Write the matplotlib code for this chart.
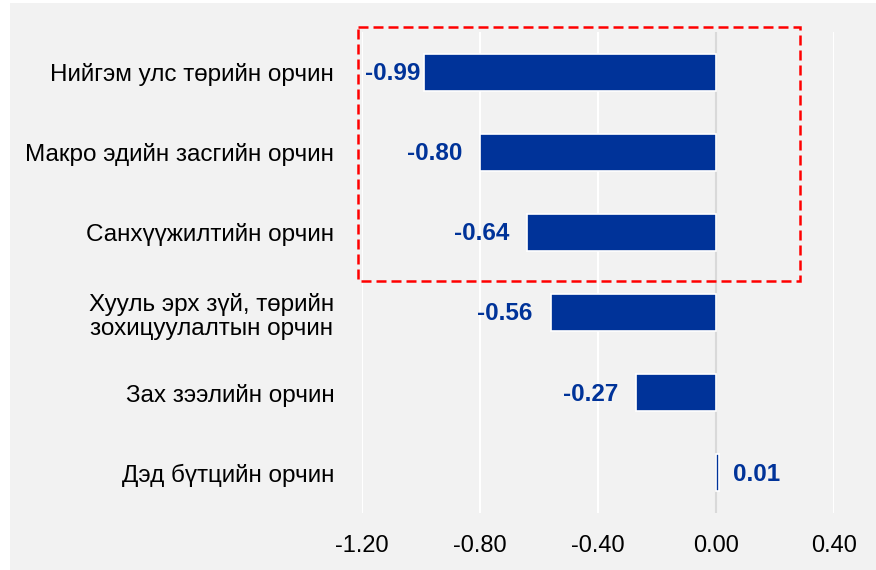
import matplotlib
matplotlib.use("Agg")
import matplotlib.pyplot as plt
from matplotlib.patches import Rectangle

# данные
categories = [
    "Нийгэм улс төрийн орчин",
    "Макро эдийн засгийн орчин",
    "Санхүүжилтийн орчин",
    "Хууль эрх зүй, төрийн\nзохицуулалтын орчин",
    "Зах зээлийн орчин",
    "Дэд бүтцийн орчин",
]
values = [-0.99, -0.80, -0.64, -0.56, -0.27, 0.01]
xticks = [-1.2, -0.8, -0.4, 0.0, 0.4]

plt.rcParams['font.family'] = ['Liberation Sans', 'DejaVu Sans']

blue = '#003399'

fig = plt.figure(figsize=(8.76, 5.7), dpi=100, facecolor='white')
# саарал дэвсгэр
fig.add_artist(Rectangle((10 / 876, 0), 1, 567 / 570, transform=fig.transFigure,
                         facecolor='#f2f2f2', edgecolor='none', zorder=-10))

ax = fig.add_axes([362 / 876, 57 / 570, 472 / 876, 481 / 570])
ax.set_facecolor('none')

pos = list(range(len(categories)))
ax.barh(pos, values, height=0.46, color=blue, edgecolor='white', linewidth=1.2, zorder=3)

ax.set_xlim(-1.2, 0.4)
ax.set_ylim(len(categories) - 0.5, -0.5)
ax.set_xticks(xticks)
ax.set_xticklabels([f'{t:.2f}' for t in xticks], fontsize=17)
ax.set_yticks(pos)
ax.set_yticklabels(categories, fontsize=17.5, multialignment='center', linespacing=1.12)
ax.tick_params(length=0)
ax.tick_params(axis='x', pad=16)
ax.tick_params(axis='y', pad=20)
ax.grid(axis='x', color='white', linewidth=1.5, zorder=0)
ax.axvline(0, color='#d9d9d9', linewidth=1.5, zorder=2)
for s in ax.spines.values():
    s.set_visible(False)

# утгын шошго
for i, v in enumerate(values):
    if v < -0.9:
        ax.annotate(f'{v:.2f}', (-1.2, i), xytext=(2, -1), textcoords='offset points',
                    ha='left', va='center', color=blue, fontsize=17.5, fontweight='bold')
    elif v < 0:
        ax.annotate(f'{v:.2f}', (v, i), xytext=(-13, -1), textcoords='offset points',
                    ha='right', va='center', color=blue, fontsize=17.5, fontweight='bold')
    else:
        ax.annotate(f'{v:.2f}', (v, i), xytext=(10, -1), textcoords='offset points',
                    ha='left', va='center', color=blue, fontsize=17.5, fontweight='bold')

# улаан тасархай хүрээ
ax.add_patch(Rectangle((-1.214, -0.56), 1.499, 3.17, fill=False, edgecolor='red',
                       linewidth=1.8, linestyle=(0, (4, 2)), clip_on=False, zorder=5))

fig.savefig('out.png', dpi=100, facecolor='white')
